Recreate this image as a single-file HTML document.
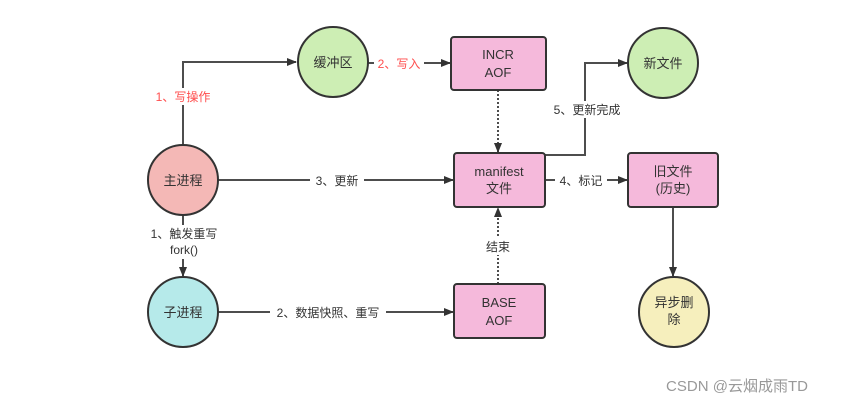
<!DOCTYPE html>
<html><head><meta charset="utf-8"><style>
body{margin:0;background:#fff}
svg{display:block;font-family:"Liberation Sans","Noto Sans CJK SC",sans-serif}
</style></head><body>
<svg width="853" height="404" viewBox="0 0 853 404" xmlns="http://www.w3.org/2000/svg">
<defs><marker id="a" markerWidth="10" markerHeight="10" refX="9" refY="5" orient="auto" markerUnits="userSpaceOnUse"><path d="M0,1 L10,5 L0,9 Z" fill="#333"/></marker></defs>
<g stroke="#4d4d4d" stroke-width="2" fill="none">
<polyline points="183,145 183,62 296,62" marker-end="url(#a)"/>
<line x1="368" y1="63" x2="450" y2="63" marker-end="url(#a)"/>
<line x1="218" y1="180" x2="453" y2="180" marker-end="url(#a)"/>
<polyline points="545,155 585,155 585,63 627,63" marker-end="url(#a)"/>
<line x1="545" y1="180" x2="627" y2="180" marker-end="url(#a)"/>
<line x1="673" y1="207" x2="673" y2="276" marker-end="url(#a)"/>
<line x1="183" y1="215" x2="183" y2="276" marker-end="url(#a)"/>
<line x1="218" y1="312" x2="453" y2="312" marker-end="url(#a)"/>
<line x1="498" y1="90" x2="498" y2="152" stroke-dasharray="2,2" marker-end="url(#a)"/>
<line x1="498" y1="284" x2="498" y2="208" stroke-dasharray="2,2" marker-end="url(#a)"/>
</g>
<g stroke="#333" stroke-width="2">
<circle cx="333" cy="62" r="35" fill="#cdeeb4"/>
<circle cx="663" cy="63" r="35" fill="#cdeeb4"/>
<circle cx="183" cy="180" r="35" fill="#f4b8b6"/>
<circle cx="183" cy="312" r="35" fill="#b6eaea"/>
<circle cx="674" cy="312" r="35" fill="#f6efbd"/>
<rect x="451" y="37" width="95" height="53" rx="3" fill="#f5b9db"/>
<rect x="454" y="153" width="91" height="54" rx="3" fill="#f5b9db"/>
<rect x="454" y="284" width="91" height="54" rx="3" fill="#f5b9db"/>
<rect x="628" y="153" width="90" height="54" rx="3" fill="#f5b9db"/>
</g>
<g font-size="13" fill="#333" text-anchor="middle">
<text x="333" y="67">缓冲区</text>
<text x="663" y="68">新文件</text>
<text x="183" y="185">主进程</text>
<text x="183" y="317">子进程</text>
<text x="674" y="307">异步删</text><text x="674" y="324">除</text>
<text x="498" y="59">INCR</text><text x="498" y="77">AOF</text>
<text x="499" y="176">manifest</text><text x="499" y="193">文件</text>
<text x="499" y="307">BASE</text><text x="499" y="325">AOF</text>
<text x="673" y="176">旧文件</text><text x="673" y="193">(历史)</text>
</g>
<g font-size="12" text-anchor="middle">
<rect x="148" y="88" width="70" height="17" fill="#fff"/>
<text x="183" y="101" fill="#ff4d4d">1、写操作</text>
<rect x="374" y="55" width="50" height="17" fill="#fff"/>
<text x="399" y="68" fill="#ff4d4d">2、写入</text>
<rect x="310" y="172" width="54" height="17" fill="#fff"/>
<text x="337" y="185" fill="#333">3、更新</text>
<rect x="550" y="101" width="74" height="17" fill="#fff"/>
<text x="587" y="114" fill="#333">5、更新完成</text>
<rect x="555" y="172" width="52" height="17" fill="#fff"/>
<text x="581" y="185" fill="#333">4、标记</text>
<rect x="484" y="238" width="28" height="17" fill="#fff"/>
<text x="498" y="251" fill="#333">结束</text>
<rect x="140" y="225" width="86" height="34" fill="#fff"/>
<text x="184" y="238" fill="#333">1、触发重写</text>
<text x="184" y="254" fill="#333">fork()</text>
<rect x="270" y="304" width="116" height="17" fill="#fff"/>
<text x="328" y="317" fill="#333">2、数据快照、重写</text>
</g>
<text x="737" y="391" font-size="15" fill="#999" text-anchor="middle">CSDN @云烟成雨TD</text>
</svg>
</body></html>
